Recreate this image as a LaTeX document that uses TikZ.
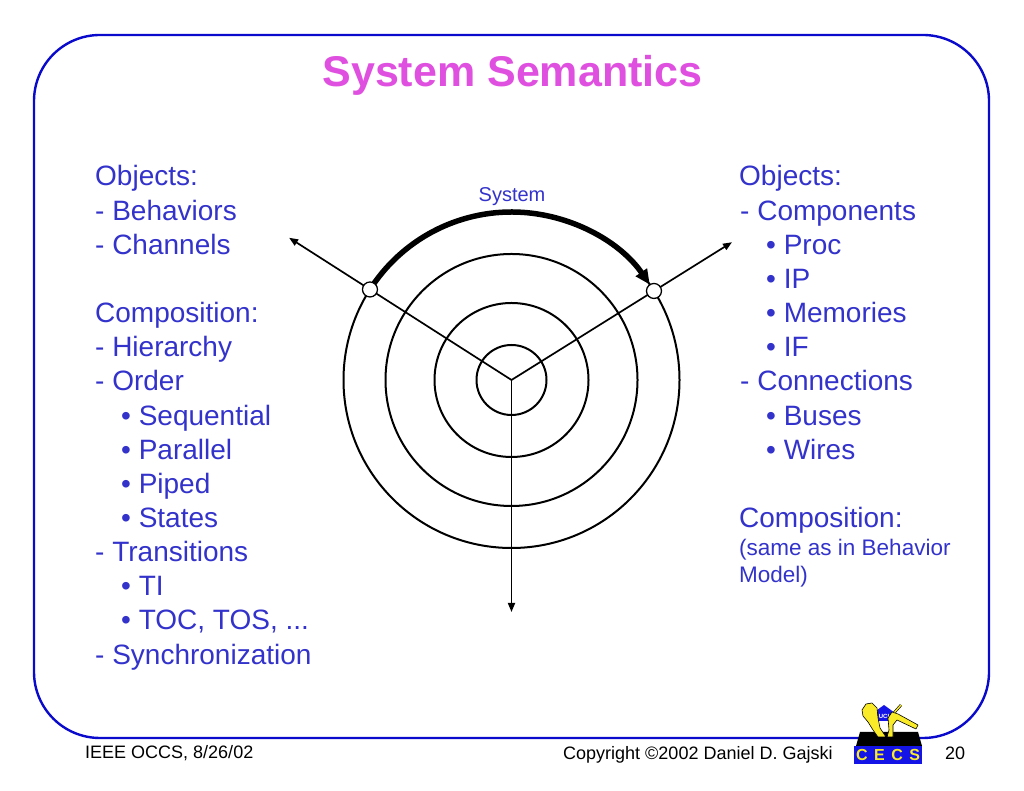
\documentclass[tikz,border=0pt]{standalone}
\usepackage{fontspec}
\setmainfont{Liberation Sans}
\usetikzlibrary{arrows.meta,calc}
\definecolor{frameblue}{RGB}{10,10,205}
\definecolor{txtblue}{RGB}{51,51,204}
\definecolor{ttlmag}{RGB}{224,80,224}
\definecolor{logoyel}{RGB}{250,235,40}
\definecolor{logoblue}{RGB}{20,20,230}
\begin{document}
\begin{tikzpicture}[x=1pt,y=1pt,
  txt/.style={anchor=base west, inner sep=0pt, text=txtblue, font=\fontsize{28}{34}\selectfont},
  smalltxt/.style={anchor=base west, inner sep=0pt, text=txtblue, font=\fontsize{22.5}{27}\selectfont},
  ring/.style={circle, draw=black, line width=2pt, inner sep=0pt},
  ray/.style={draw=black, line width=1.7pt, -{Triangle[length=9pt,width=7pt]}},
  joint/.style={circle, draw=black, fill=white, line width=1.3pt, minimum size=15pt, inner sep=0pt},
  foot/.style={anchor=base west, inner sep=0pt, text=black, font=\fontsize{18}{20}\selectfont},
  yelpart/.style={fill=logoyel, draw=black, line width=0.6pt, line join=round},
]
\useasboundingbox (0,0) rectangle (1024,791);
\fill[white] (0,0) rectangle (1024,791);
% frame
\draw[frameblue, line width=2.4pt, rounded corners=66pt] (34,53) rectangle (989,756);
% title
\node[anchor=base, inner sep=0pt, text=ttlmag, font=\fontsize{43}{50}\selectfont\bfseries] (title) at (512.5,704) {System Semantics};

% wheel
\coordinate (c) at (511.5,411);
\node[ring, minimum size=70pt]  (r1) at (c) {};
\node[ring, minimum size=154pt] (r2) at (c) {};
\node[ring, minimum size=252pt] (r3) at (c) {};
\node[ring, minimum size=336pt] (r4) at (c) {};
\coordinate (eL) at ([shift={(147.4:264)}]c);
\coordinate (eR) at ([shift={(32:260)}]c);
\coordinate (eD) at ([shift={(-90:232)}]c);
\draw[ray] (c) -- (eL);
\draw[ray] (c) -- (eR);
\draw[ray] (c) -- (eD);
\coordinate (arcS) at ([shift={(146:168)}]c);
\draw[line width=5.5pt, -{Triangle[length=15pt,width=13pt]}] (arcS) arc[start angle=146, end angle=34.6, radius=168pt];
\node[joint] (jL) at ([shift={(147.4:168)}]c) {};
\node[joint] (jR) at ([shift={(32:168)}]c) {};
\node[anchor=base, inner sep=0pt, text=txtblue, font=\fontsize{20}{24}\selectfont] (sys) at (512,589) {System};

% left column
\node[txt] (l0)  at (95,605)    {Objects:};
\node[txt] (l1)  at (95,570.85) {- Behaviors};
\node[txt] (l2)  at (95,536.7)  {- Channels};
\node[txt] (l4)  at (95,468.4)  {Composition:};
\node[txt] (l5)  at (95,434.25) {- Hierarchy};
\node[txt] (l6)  at (95,400.1)  {- Order};
\node[txt] (l7)  at (121,365.95) {• Sequential};
\node[txt] (l8)  at (121,331.8)  {• Parallel};
\node[txt] (l9)  at (121,297.65) {• Piped};
\node[txt] (l10) at (121,263.5)  {• States};
\node[txt] (l11) at (95,229.35) {- Transitions};
\node[txt] (l12) at (121,195.2)  {• TI};
\node[txt] (l13) at (121,161.05) {• TOC, TOS, ...};
\node[txt] (l14) at (95,126.9)  {- Synchronization};

% right column
\node[txt] (q0)  at (739,605)    {Objects:};
\node[txt] (q1)  at (740,570.85) {- Components};
\node[txt] (q2)  at (766,536.7)  {• Proc};
\node[txt] (q3)  at (766,502.55) {• IP};
\node[txt] (q4)  at (766,468.4)  {• Memories};
\node[txt] (q5)  at (766,434.25) {• IF};
\node[txt] (q6)  at (740,400.1)  {- Connections};
\node[txt] (q7)  at (766,365.95) {• Buses};
\node[txt] (q8)  at (766,331.8)  {• Wires};
\node[txt] (q10) at (739,263.5)  {Composition:};
\node[smalltxt] (q11) at (739,235) {(same as in Behavior};
\node[smalltxt] (q12) at (739,208) {Model)};

% footer
\node[foot] (f1) at (85,32) {IEEE OCCS, 8/26/02};
\node[foot] (f2) at (563,31) {Copyright \textcopyright2002 Daniel D. Gajski};
\node[foot] (f3) at (945,31) {20};

% logo
\fill[logoblue] (854,27) rectangle (922,45);
\fill[black] (856,45) -- (860,59) -- (918,59) -- (922,45) -- cycle;
\fill[logoblue] (873,70) -- (873,78) -- (884,86) -- (895,78) -- (895,70) -- cycle;
\node[inner sep=0pt, text=white, font=\fontsize{6}{6}\selectfont\bfseries] (uci) at (884,75) {UCI};
\draw[yelpart] (866,87) -- (872,88) -- (877,83) -- (878,73) -- (880,63) -- (884,57) -- (886,54) -- (878,54) -- (873,61) -- (868,69) -- (863,75) -- (862,81) -- cycle;
\draw[black, line width=2.6pt] (893,77) -- (901,86);
\draw[logoyel, line width=1.4pt] (893,77) -- (901,86);
\draw[yelpart] (887,54) -- (893,54) -- (893,66) -- (897,71) -- (916,62) -- (918,66) -- (898,77) -- (892,79) -- (888,73) -- (889,61) -- cycle;
\node[inner sep=0pt, text=logoyel, font=\fontsize{16}{16}\selectfont\bfseries] (cecs) at (888,36) {C\hspace{6.5pt}E\hspace{6.5pt}C\hspace{6.5pt}S};
\end{tikzpicture}
\end{document}
